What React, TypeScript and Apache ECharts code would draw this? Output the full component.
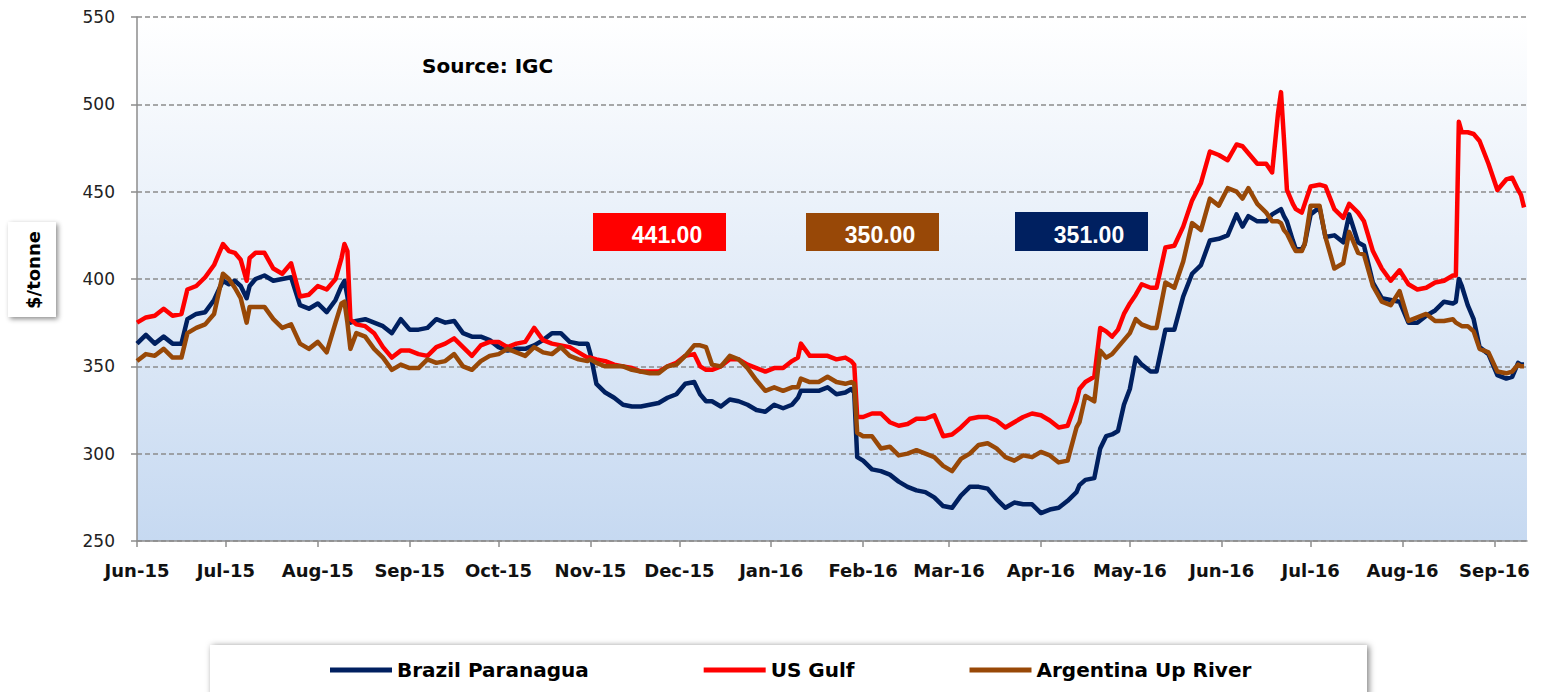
import { useEffect, useRef } from 'react';
import * as echarts from 'echarts';

const START_DATE = '2015-06-01';
const END_DAY = 469;
const MONTH_TICKS = [
  '2015-06-01', '2015-07-01', '2015-08-01', '2015-09-01', '2015-10-01', '2015-11-01',
  '2015-12-01', '2016-01-01', '2016-02-01', '2016-03-01', '2016-04-01', '2016-05-01',
  '2016-06-01', '2016-07-01', '2016-08-01', '2016-09-01',
];
const MONTH_ABBR = ['Jan', 'Feb', 'Mar', 'Apr', 'May', 'Jun', 'Jul', 'Aug', 'Sep', 'Oct', 'Nov', 'Dec'];

// days since START_DATE
const DAYS = [
  0, 3, 6, 9, 12, 15, 17, 20, 23, 26, 29, 31, 33, 35, 37, 38, 40, 43, 46, 49, 52, 55,
  58, 61, 64, 67, 69, 70, 71, 72, 74, 77, 80, 83, 86, 89, 92, 95, 98, 101, 104, 107, 110, 113,
  116, 119, 122, 125, 128, 131, 134, 137, 140, 143, 146, 149, 152, 153, 155, 158, 161, 164, 167, 170,
  173, 176, 179, 182, 185, 188, 190, 192, 194, 197, 200, 203, 206, 209, 212, 215, 218, 221, 223, 224, 227,
  230, 233, 236, 239, 241, 242, 243, 245, 248, 251, 254, 257, 260, 263, 266, 269, 272, 275, 278, 281, 284,
  287, 290, 293, 296, 299, 302, 305, 308, 311, 314, 317, 318, 320, 323, 325, 327, 329, 331, 333, 335, 337, 339, 342,
  344, 347, 350, 353, 356, 359, 362, 365, 368, 371, 373, 375, 378, 381, 383, 385, 386, 387, 388, 390, 391, 393, 394, 396, 399,
  401, 404, 407, 409, 412, 414, 417, 420, 423, 426, 429, 432, 435, 438, 441, 444, 445, 446, 447, 449, 451, 453, 456, 459, 462, 464, 466, 467, 468,
];

const BRAZIL = [
  363, 368, 363, 367, 363, 363, 377, 380, 381, 388, 399, 397, 399, 396, 389, 396, 400, 402, 399, 400, 401, 385,
  383, 386, 381, 388, 396, 399, 390, 375, 376, 377, 375, 373, 369, 377, 371, 371, 372, 377, 375, 376, 369, 367,
  367, 365, 361, 359, 360, 360, 362, 365, 369, 369, 364, 363, 363, 357, 340, 335, 332, 328, 327, 327,
  328, 329, 332, 334, 340, 341, 334, 330, 330, 327, 331, 330, 328, 325, 324, 328, 326, 328, 332, 336, 336,
  336, 338, 334, 335, 337, 335, 298, 296, 291, 290, 288, 284, 281, 279, 278, 275, 270, 269, 276, 281, 281,
  280, 274, 269, 272, 271, 271, 266, 268, 269, 273, 278, 282, 285, 286, 303, 310, 311, 313, 328, 337, 355, 351, 347,
  347, 371, 371, 390, 403, 408, 422, 423, 425, 437, 430, 436, 433, 433, 437, 439, 440, 436, 433, 422, 417, 417, 420, 437, 441,
  424, 425, 421, 437, 421, 419, 398, 389, 388, 387, 375, 375, 379, 382, 387, 386, 387, 400, 396, 385, 377, 361, 357, 345, 343, 344, 352, 351, 351,
];

const US_GULF = [
  375, 378, 379, 383, 379, 380, 394, 396, 401, 408, 420, 416, 415, 411, 399, 412, 415, 415, 406, 403, 409, 390,
  391, 396, 394, 400, 412, 420, 416, 377, 374, 373, 369, 361, 355, 359, 359, 357, 356, 361, 363, 366, 361, 356,
  362, 364, 364, 361, 363, 364, 372, 365, 363, 362, 361, 358, 355, 355, 354, 353, 351, 350, 349, 347,
  347, 347, 350, 352, 356, 357, 350, 348, 348, 350, 354, 354, 351, 349, 347, 349, 349, 353, 355, 363, 356,
  356, 356, 354, 355, 353, 351, 321, 321, 323, 323, 318, 316, 317, 320, 320, 322, 310, 311, 315, 320, 321,
  321, 319, 315, 318, 321, 323, 322, 319, 315, 316, 330, 337, 341, 344, 372, 370, 367, 371, 380, 386, 391, 397, 395,
  395, 418, 419, 430, 445, 455, 473, 471, 468, 477, 476, 472, 466, 466, 461, 495, 507, 480, 451, 443, 440, 438, 443, 453, 454,
  453, 440, 435, 443, 438, 433, 416, 406, 399, 405, 397, 394, 395, 398, 399, 402, 402, 490, 484, 484, 483, 479, 466, 451, 457, 458, 451, 448, 441,
];

const ARGENTINA = [
  353, 357, 356, 360, 355, 355, 369, 372, 374, 380, 403, 400, 395, 389, 375, 384, 384, 384, 377, 372, 374, 363,
  360, 364, 358, 375, 386, 387, 375, 360, 369, 367, 360, 355, 348, 351, 349, 349, 354, 352, 353, 357, 350, 348,
  353, 356, 357, 360, 358, 356, 361, 358, 357, 361, 356, 354, 353, 354, 352, 350, 350, 350, 348, 347,
  346, 346, 350, 351, 356, 362, 362, 361, 351, 350, 356, 354, 349, 342, 336, 338, 336, 338, 338, 343, 341,
  341, 344, 341, 340, 341, 340, 312, 310, 310, 303, 304, 299, 300, 302, 300, 298, 293, 290, 297, 300, 305,
  306, 303, 298, 296, 299, 298, 301, 299, 295, 296, 315, 318, 333, 330, 359, 355, 357, 361, 365, 369, 377, 374, 372,
  372, 398, 395, 410, 432, 428, 446, 442, 452, 450, 446, 452, 443, 438, 433, 433, 432, 428, 426, 419, 416, 416, 420, 442, 442,
  424, 406, 409, 427, 415, 414, 396, 387, 385, 393, 376, 378, 380, 376, 376, 377, 375, 374, 373, 373, 370, 360, 358, 347, 346, 347, 351, 350, 350,
];

const SERIES_NAMES = ['Brazil Paranagua', 'US Gulf', 'Argentina Up River'];
const SERIES_COLORS = ['#002060', '#ff0000', '#984807'];
const LATEST_US_GULF = 441;
const LATEST_ARGENTINA = 350;
const LATEST_BRAZIL = 351;

const Y_MIN = 250;
const Y_MAX = 550;
const Y_STEP = 50;

const DAY_MS = 86400000;
const startTs = Date.parse(START_DATE);
const ts = (d: number) => startTs + d * DAY_MS;

export default function App() {
  const ref = useRef<HTMLDivElement>(null);

  useEffect(() => {
    if (!ref.current) return;
    const chart = echarts.init(ref.current, null, { renderer: 'svg' });
    const tickValues = MONTH_TICKS.map((s) => Date.parse(s));
    const seriesData = [BRAZIL, US_GULF, ARGENTINA].map((vals) => DAYS.map((d, i) => [ts(d), vals[i]]));

    const valueBox = (x: number, y: number, h: number, color: string, value: number) => ({
      type: 'group',
      children: [
        { type: 'rect', shape: { x, y, width: 133, height: h }, style: { fill: color } },
        {
          type: 'text',
          x: x + 74,
          y: y + h / 2 + 3,
          style: {
            text: value.toFixed(2),
            fill: '#ffffff',
            font: 'bold 23px "Liberation Sans", Arial, sans-serif',
            textAlign: 'center',
            textVerticalAlign: 'middle',
          },
        },
      ],
    });

    const option: any = {
      animation: false,
      backgroundColor: '#ffffff',
      grid: {
        left: 137,
        right: 20,
        top: 17,
        bottom: 151,
        show: true,
        borderWidth: 0,
        backgroundColor: new echarts.graphic.LinearGradient(0, 0, 0, 1, [
          { offset: 0, color: '#ffffff' },
          { offset: 1, color: '#c6d9f1' },
        ]),
      },
      xAxis: {
        type: 'value',
        min: ts(0),
        max: ts(END_DAY),
        axisLine: { show: true, lineStyle: { color: '#8c8c8c', width: 1.5 } },
        axisTick: { show: true, customValues: tickValues, length: 6, lineStyle: { color: '#8c8c8c', width: 1.5 } },
        axisLabel: {
          customValues: tickValues,
          formatter: (v: number) => {
            const d = new Date(v);
            return MONTH_ABBR[d.getUTCMonth()] + '-' + String(d.getUTCFullYear()).slice(2);
          },
          margin: 20,
          fontFamily: '"DejaVu Sans", sans-serif',
          fontWeight: 'bold',
          fontSize: 18,
          color: '#111111',
        },
        splitLine: { show: false },
      },
      yAxis: {
        type: 'value',
        min: Y_MIN,
        max: Y_MAX,
        interval: Y_STEP,
        axisLine: { show: true, lineStyle: { color: '#8c8c8c', width: 1.5 } },
        axisTick: { show: true, length: 6, lineStyle: { color: '#8c8c8c', width: 1.5 } },
        axisLabel: {
          margin: 22,
          fontFamily: '"DejaVu Sans", sans-serif',
          fontSize: 17,
          color: '#222222',
        },
        splitLine: { show: true, lineStyle: { color: '#8c8c8c', width: 1.5, type: [5, 3] } },
      },
      legend: {
        left: 325,
        top: 655,
        z: 10,
        icon: 'rect',
        itemWidth: 62,
        itemHeight: 5,
        itemGap: 115,
        data: SERIES_NAMES,
        textStyle: {
          fontFamily: '"DejaVu Sans", sans-serif',
          fontWeight: 'bold',
          fontSize: 20,
          color: '#000000',
        },
      },
      graphic: [
        {
          type: 'rect',
          z: 1,
          shape: { x: 210, y: 645, width: 1157, height: 52 },
          style: { fill: '#ffffff', shadowBlur: 6, shadowColor: 'rgba(0,0,0,0.5)', shadowOffsetX: 2, shadowOffsetY: 1 },
        },
        {
          type: 'rect',
          z: 1,
          shape: { x: 8, y: 222, width: 48, height: 95 },
          style: { fill: '#ffffff', shadowBlur: 5, shadowColor: 'rgba(0,0,0,0.45)', shadowOffsetX: 2, shadowOffsetY: 2 },
        },
        {
          type: 'text',
          z: 2,
          x: 33,
          y: 270,
          rotation: Math.PI / 2,
          style: {
            text: '$/tonne',
            fill: '#000000',
            font: 'bold 18px "DejaVu Sans", sans-serif',
            textAlign: 'center',
            textVerticalAlign: 'middle',
          },
        },
        {
          type: 'text',
          z: 5,
          x: 422,
          y: 66,
          style: {
            text: 'Source: IGC',
            fill: '#000000',
            font: 'bold 20px "DejaVu Sans", sans-serif',
            textAlign: 'left',
            textVerticalAlign: 'middle',
          },
        },
        valueBox(593, 213, 38, SERIES_COLORS[1], LATEST_US_GULF),
        valueBox(806, 213, 38, SERIES_COLORS[2], LATEST_ARGENTINA),
        valueBox(1015, 212, 39, SERIES_COLORS[0], LATEST_BRAZIL),
      ],
      series: SERIES_NAMES.map((name, i) => ({
        name,
        type: 'line',
        data: seriesData[i],
        symbol: 'none',
        smooth: false,
        color: SERIES_COLORS[i],
        lineStyle: { color: SERIES_COLORS[i], width: 4.5, join: 'round' },
        z: 3 + i,
      })),
    };

    chart.setOption(option);
    return () => chart.dispose();
  }, []);

  return <div ref={ref} style={{ position: 'fixed', left: 0, top: 0, width: 1547, height: 692 }} />;
}
